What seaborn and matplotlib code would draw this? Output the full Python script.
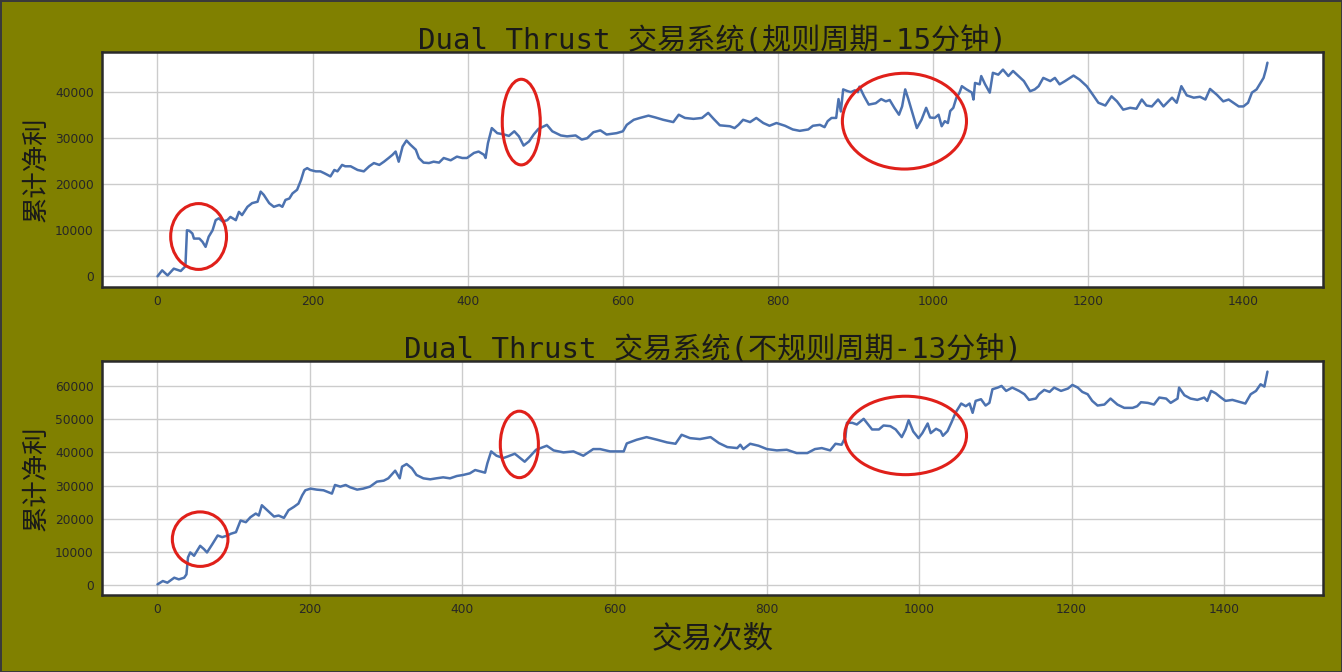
import numpy as np
import pandas as pd
import seaborn as sns
import matplotlib.pyplot as plt
from matplotlib.patches import Ellipse

sns.set_theme(style='whitegrid')
plt.rcParams['font.family'] = ['DejaVu Sans', 'Noto Sans CJK SC']
plt.rcParams['axes.unicode_minus'] = False

# 规则周期-15分钟 累计净利
x_15 = [0, 6, 13, 21, 30, 36, 38, 41, 45, 47, 54, 58, 62, 66, 71, 75, 79, 84, 90, 94, 101, 105, 109, 116,
        122, 129, 133, 137, 144, 150, 157, 161, 165, 170, 174, 180, 185, 189, 193, 197, 204, 210, 215, 223,
        228, 232, 238, 242, 249, 258, 266, 273, 279, 286, 292, 298, 303, 307, 311, 316, 321, 326, 333, 337,
        343, 350, 356, 363, 369, 378, 386, 393, 399, 408, 414, 421, 423, 426, 431, 438, 447, 453, 460, 466,
        472, 479, 485, 491, 502, 509, 520, 528, 539, 547, 554, 562, 571, 579, 592, 600, 605, 614, 622, 633,
        642, 652, 665, 672, 680, 691, 702, 710, 717, 725, 738, 744, 749, 755, 764, 772, 781, 789, 798, 809,
        819, 828, 839, 845, 854, 860, 864, 869, 875, 878, 881, 884, 890, 894, 899, 903, 905, 911, 917, 926,
        933, 939, 944, 950, 956, 960, 964, 968, 974, 979, 985, 991, 996, 1002, 1007, 1011, 1015, 1019, 1022,
        1026, 1030, 1034, 1037, 1043, 1050, 1052, 1054, 1060, 1062, 1067, 1073, 1077, 1084, 1090, 1097, 1103,
        1110, 1117, 1125, 1131, 1136, 1142, 1151, 1157, 1163, 1170, 1181, 1189, 1198, 1204, 1213, 1222, 1230,
        1237, 1245, 1254, 1262, 1269, 1275, 1282, 1290, 1297, 1308, 1314, 1320, 1327, 1336, 1344, 1351, 1357,
        1366, 1374, 1381, 1387, 1394, 1400, 1406, 1411, 1417, 1422, 1426, 1429, 1431]
y_15 = [0, 1300, 200, 1670, 1160, 2180, 10000, 9900, 9300, 8200, 8200, 7500, 6400, 8600, 10000, 12200, 12600,
        11900, 12200, 12900, 12200, 14000, 13300, 15100, 15900, 16200, 18400, 17700, 15900, 15100, 15500, 15100,
        16600, 16900, 18000, 18800, 20900, 23100, 23500, 23100, 22800, 22800, 22400, 21700, 23100, 22800, 24200,
        23900, 23900, 23100, 22800, 23900, 24600, 24200, 24900, 25700, 26400, 27100, 24900, 28200, 29500, 28600,
        27500, 25700, 24700, 24600, 24900, 24700, 25700, 25200, 26000, 25700, 25700, 26800, 27100, 26400, 25700,
        28900, 32200, 31100, 30800, 30500, 31500, 30400, 28400, 29300, 30800, 32000, 32900, 31500, 30600, 30400,
        30600, 29700, 30000, 31300, 31700, 30800, 31100, 31500, 32900, 34000, 34400, 34900, 34500, 34000, 33500,
        35100, 34400, 34200, 34400, 35500, 34200, 32800, 32600, 32200, 32900, 34000, 33500, 34400, 33300, 32700,
        33300, 32700, 31900, 31600, 31900, 32700, 32900, 32400, 33700, 34400, 34400, 38500, 35800, 40600, 40200,
        40000, 40400, 40000, 41200, 39100, 37300, 37600, 38500, 38000, 38300, 36600, 35100, 36900, 40600, 38500,
        35100, 32200, 34000, 36600, 34500, 34400, 35100, 32600, 33700, 33300, 35900, 36600, 38800, 39900, 41300,
        40600, 39900, 38400, 42000, 41700, 43500, 41700, 39900, 44200, 43800, 44900, 43500, 44600, 43500, 42400,
        40200, 40600, 41300, 43100, 42400, 43100, 41700, 42400, 43600, 42700, 41300, 39900, 37700, 37100, 39100,
        38000, 36200, 36600, 36400, 38400, 37100, 36900, 38400, 36900, 38800, 37700, 41300, 39300, 38800, 39000,
        38400, 40700, 39400, 38000, 38400, 37700, 36900, 36900, 37700, 39900, 40600, 42000, 43100, 44900, 46400]

# 不规则周期-13分钟 累计净利
x_13 = [0, 7, 13, 22, 28, 35, 38, 40, 43, 48, 56, 61, 65, 72, 79, 85, 92, 96, 103, 109, 116, 122, 129, 133,
        137, 144, 153, 159, 166, 172, 179, 185, 190, 194, 201, 209, 218, 229, 233, 240, 247, 253, 262, 270,
        279, 288, 297, 303, 312, 318, 321, 327, 334, 340, 349, 358, 366, 375, 384, 393, 401, 410, 417, 425,
        430, 433, 438, 445, 454, 460, 469, 476, 482, 489, 497, 511, 520, 533, 546, 559, 572, 581, 594, 612,
        616, 629, 642, 656, 669, 680, 688, 699, 712, 726, 737, 748, 761, 765, 769, 778, 789, 800, 813, 826,
        839, 853, 863, 872, 883, 890, 898, 903, 905, 912, 918, 927, 938, 947, 953, 962, 969, 977, 982, 986,
        992, 999, 1004, 1011, 1015, 1022, 1028, 1031, 1037, 1042, 1048, 1055, 1061, 1066, 1070, 1074, 1081,
        1087, 1092, 1096, 1103, 1108, 1114, 1122, 1131, 1138, 1144, 1153, 1157, 1164, 1171, 1177, 1186, 1195,
        1201, 1208, 1214, 1221, 1227, 1234, 1243, 1251, 1260, 1269, 1280, 1286, 1291, 1300, 1308, 1315, 1324,
        1330, 1339, 1341, 1348, 1356, 1365, 1374, 1378, 1383, 1389, 1396, 1402, 1411, 1420, 1428, 1435, 1442,
        1448, 1453, 1457]
y_13 = [300, 1300, 800, 2300, 1800, 2300, 3300, 8400, 9900, 8900, 11900, 10900, 9900, 12400, 15000, 14500,
        15000, 15500, 16000, 19500, 19000, 20500, 21600, 21000, 24100, 22600, 20700, 21000, 20300, 22600, 23600,
        24600, 27100, 28600, 29100, 28800, 28600, 27600, 30200, 29700, 30200, 29500, 28800, 29100, 29700, 31200,
        31500, 32200, 34500, 32200, 35700, 36500, 35200, 33200, 32200, 31900, 32200, 32500, 32200, 32900, 33200,
        33700, 34700, 34200, 33900, 36700, 40300, 39000, 38300, 38800, 39600, 38300, 37200, 38800, 40800, 42000,
        40600, 40000, 40300, 39000, 41000, 41000, 40300, 40300, 42700, 43800, 44600, 43800, 43000, 42600, 45300,
        44300, 44000, 44600, 42800, 41600, 41300, 42300, 41000, 42600, 42000, 41000, 40600, 40800, 39800, 39800,
        41000, 41300, 40600, 42600, 42300, 44600, 48900, 48900, 48400, 50100, 46900, 46900, 48100, 47900, 46900,
        44600, 46900, 49700, 46300, 44300, 45800, 48700, 45800, 47100, 46400, 45000, 46400, 48900, 52100, 54700,
        53900, 54700, 51900, 55500, 56000, 54100, 54900, 59000, 59500, 60000, 58500, 59500, 58500, 57500, 55800,
        56200, 57500, 58800, 58200, 59500, 58500, 59200, 60300, 59500, 58200, 57500, 55500, 54100, 54400, 56200,
        54400, 53400, 53400, 53900, 55100, 54900, 54400, 56500, 56200, 54900, 56200, 59500, 57200, 56200, 55800,
        56500, 55500, 58500, 57800, 56500, 55500, 55800, 55200, 54700, 57500, 58500, 60500, 59800, 64300]

titles = ['Dual Thrust 交易系统(规则周期-15分钟)', 'Dual Thrust 交易系统(不规则周期-13分钟)']

# 红圈标注 (中心x, 中心y, 宽, 高)
marks_15 = [(53, 8650, 72, 14300), (469, 33500, 49, 18600), (963, 33700, 160, 20800)]
marks_13 = [(56, 13900, 73, 16400), (475, 42400, 50, 20000), (982, 45100, 160, 23600)]

fig = plt.figure(figsize=(13.42, 6.72), dpi=100, facecolor='#808000',
                 edgecolor='#3a3a3a', linewidth=2)
ax1 = fig.add_axes([0.076, 0.5729, 0.9098, 0.3497])
ax2 = fig.add_axes([0.076, 0.1146, 0.9098, 0.3482])

panels = [(ax1, x_15, y_15, marks_15, titles[0]), (ax2, x_13, y_13, marks_13, titles[1])]
for ax, xs, ys, marks, title in panels:
    df = pd.DataFrame({'n': xs, 'profit': ys})
    sns.lineplot(data=df, x='n', y='profit', ax=ax, color='#4c72b0', linewidth=1.8)
    for cx, cy, w, h in marks:
        ax.add_patch(Ellipse((cx, cy), w, h, fill=False, edgecolor='#e0201a', linewidth=2.2, zorder=5))
    ax.set_facecolor('white')
    ax.grid(True, color='#cccccc', linewidth=1)
    for s in ax.spines.values():
        s.set_color('#2a2a2a')
        s.set_linewidth(1.8)
    ax.tick_params(axis='both', labelsize=8.8, labelcolor='#262626', length=0, pad=6)
    ax.set_title(title, family=['DejaVu Sans Mono', 'Noto Sans CJK SC'], fontsize=21,
                 color='#1a1a1a', pad=2)
    ax.set_ylabel('累计净利', family=['Noto Sans CJK SC'], fontsize=19, color='#1a1a1a', labelpad=4)
    ax.set_xlabel('')

ax2.set_xlabel('交易次数', family=['Noto Sans CJK SC'], fontsize=22, color='#1a1a1a', labelpad=5)

plt.savefig('out.png', dpi=100, facecolor=fig.get_facecolor(), edgecolor=fig.get_edgecolor())
